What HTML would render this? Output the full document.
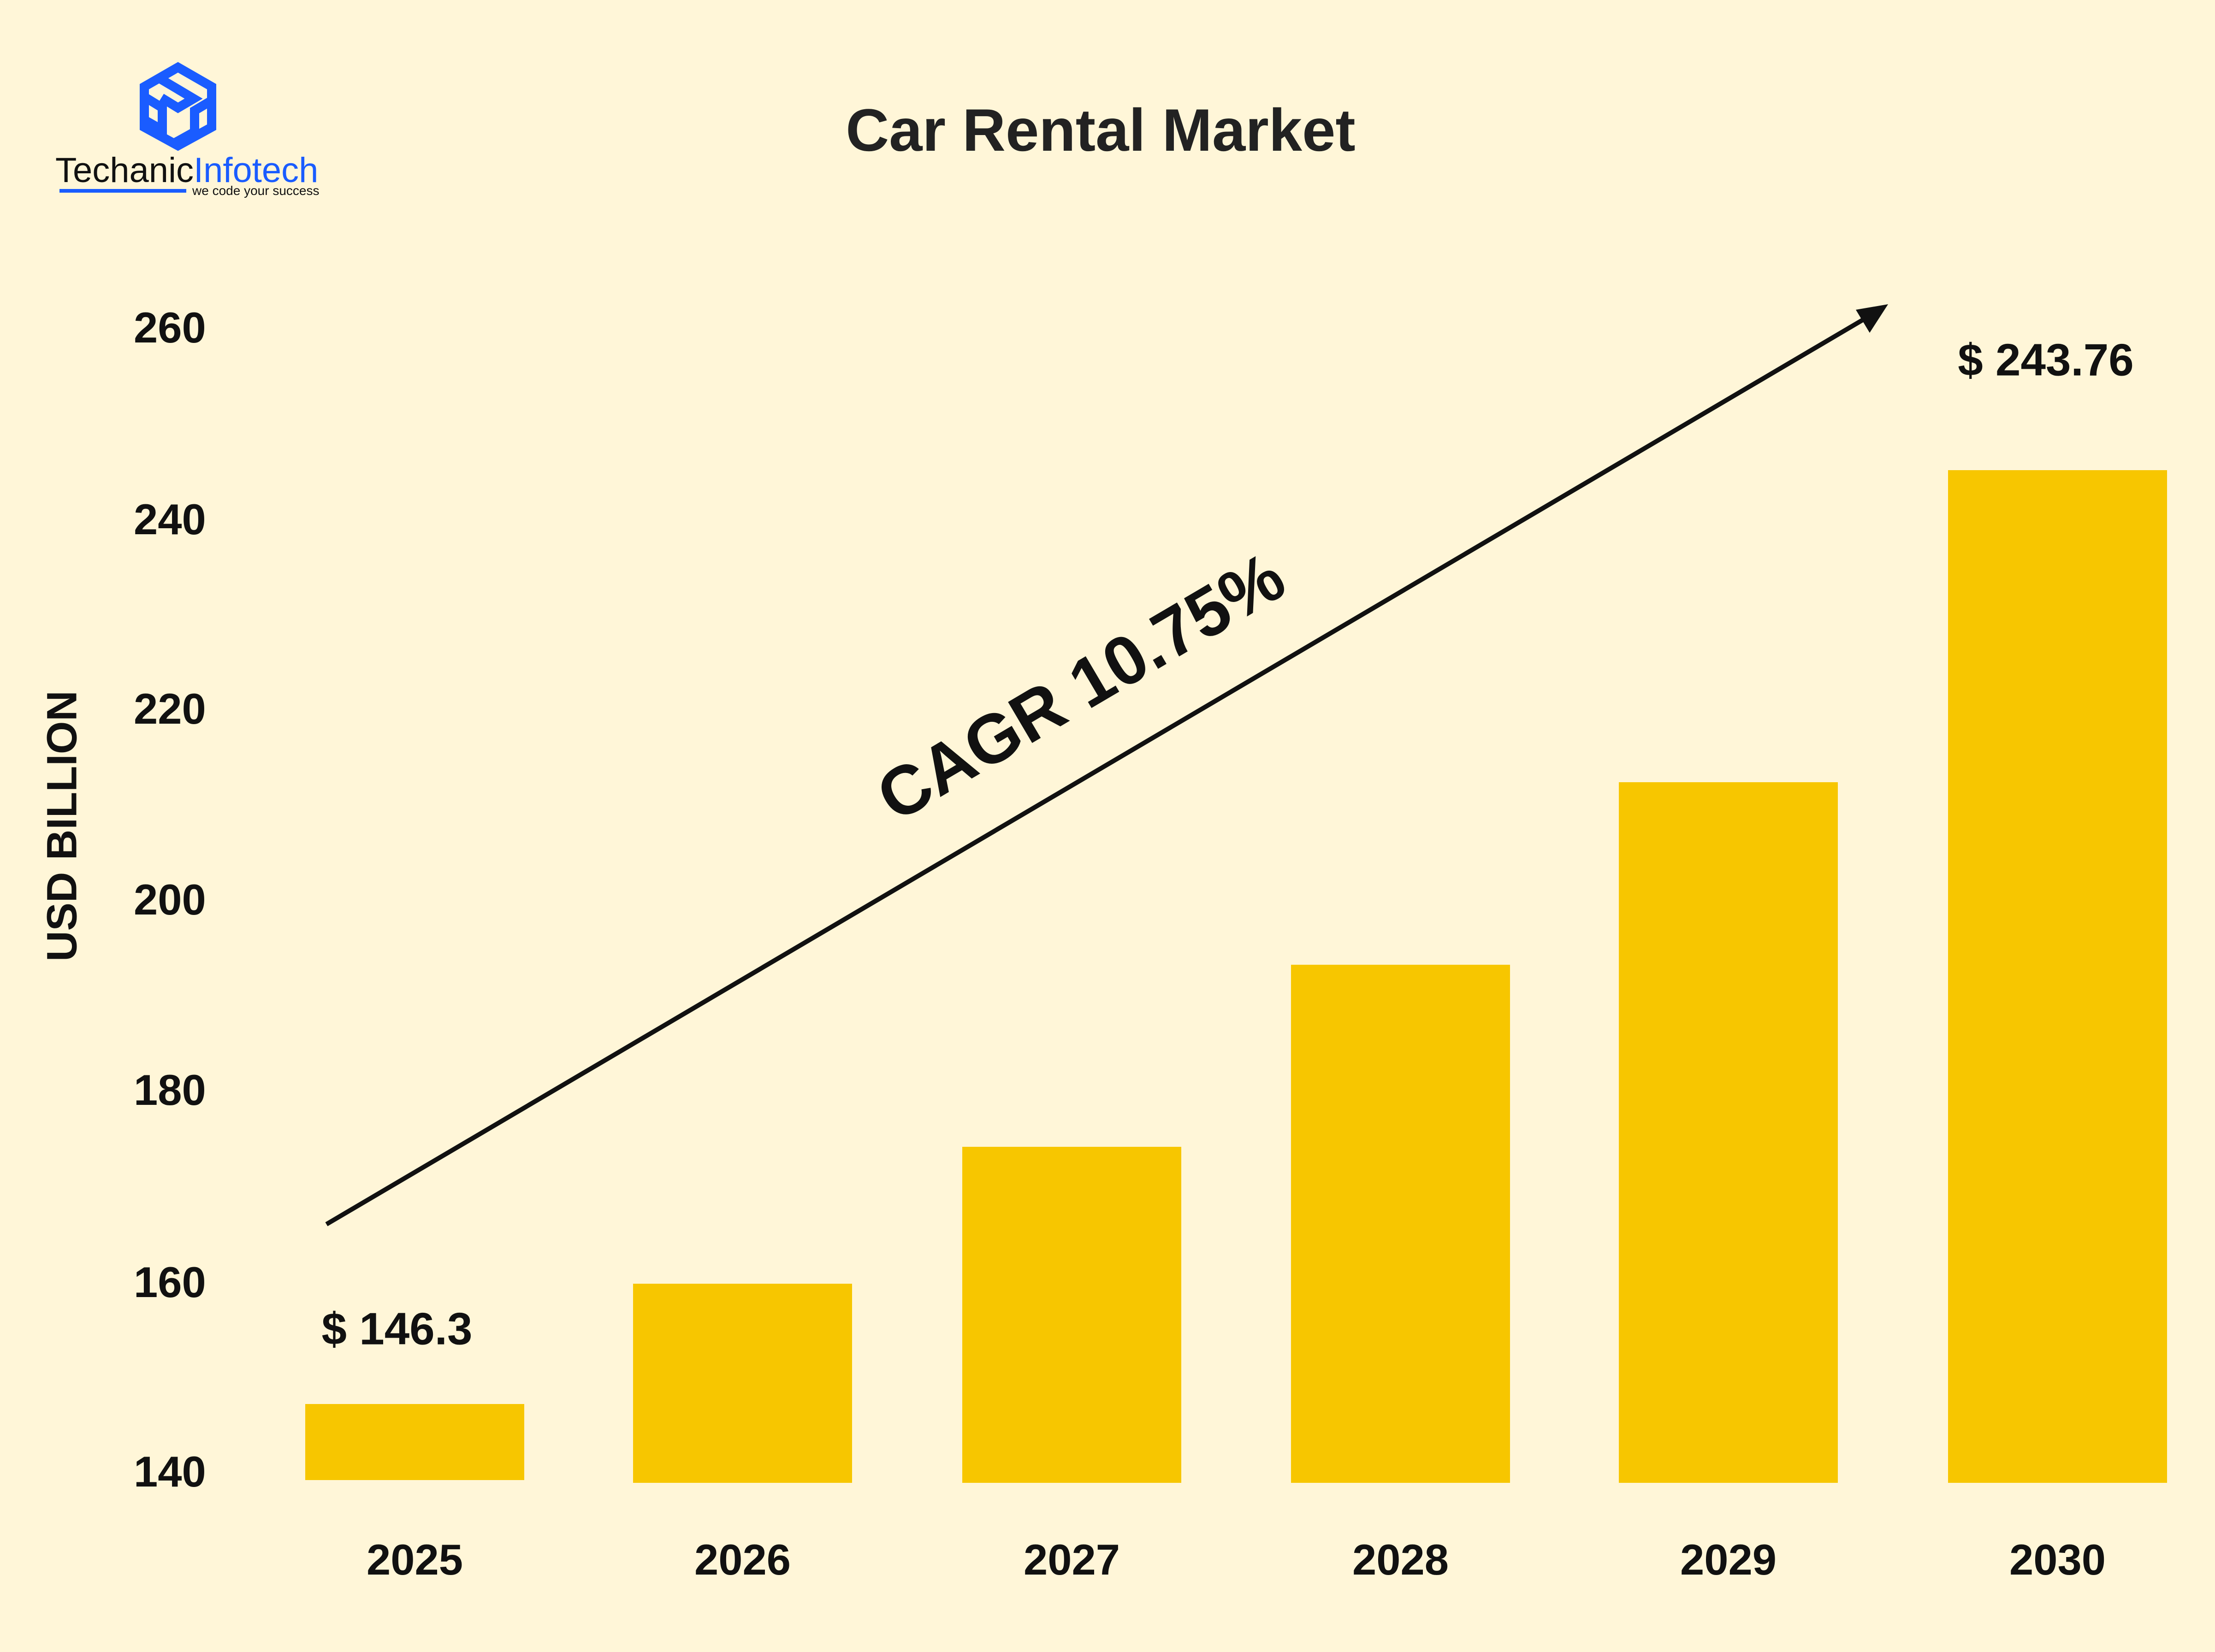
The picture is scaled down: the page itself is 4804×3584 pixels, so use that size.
<!DOCTYPE html>
<html><head><meta charset="utf-8"><style>
html,body{margin:0;padding:0}
body{width:4804px;height:3584px;background:#FFF6D8;position:relative;overflow:hidden;font-family:"Liberation Sans",sans-serif}
.t{position:absolute;font-weight:bold;color:#111;white-space:nowrap}
.bar{position:absolute;background:#F7C600;width:475px}
.yl{position:absolute;left:290px;font-size:94px;font-weight:bold;color:#111;transform:translateY(-50%)}
.xl{position:absolute;top:3330px;width:475px;text-align:center;font-size:94px;font-weight:bold;color:#111}
</style></head><body>
<svg style="position:absolute;left:0;top:0" width="4804" height="3584">
<g fill="none" stroke="#1A5CFF" stroke-width="20" stroke-linejoin="miter">
<polygon points="386,146 459,188 459,276 386,316 313,276 313,188"/>
<polyline points="346,170 420,214 386,234 350,212"/>
<polyline points="313,210 352,234 352,282 313,260"/>
<polyline points="459,218 422,240 422,286 386,306 386,322"/>
</g>
<line x1="129" y1="414" x2="404" y2="414" stroke="#1A5CFF" stroke-width="8"/>
<line x1="708" y1="2656" x2="4040" y2="694" stroke="#111" stroke-width="10"/>
<polygon points="4095,660 4025,672 4055,722" fill="#111"/>
</svg>
<div class="t" style="left:120px;top:332px;font-size:76px;font-weight:normal;line-height:1"><span style="color:#111">Techanic</span><span style="color:#1A5CFF">Infotech</span></div>
<div class="t" style="left:417px;top:400px;font-size:28px;font-weight:normal;line-height:1">we code your success</div>
<div class="t" style="left:2387px;top:282px;font-size:130px;transform:translate(-50%,-50%);color:#222">Car Rental Market</div>
<div class="t" style="left:135px;top:1792px;font-size:92px;transform:translate(-50%,-50%) rotate(-90deg)">USD BILLION</div>
<div class="t" style="left:2344px;top:1490px;font-size:150px;transform:translate(-50%,-50%) rotate(-30.5deg)">CAGR 10.75%</div>
<div class="t" style="left:861px;top:2883px;font-size:98px;transform:translate(-50%,-50%)">$ 146.3</div>
<div class="t" style="left:4437px;top:781px;font-size:98px;transform:translate(-50%,-50%)">$ 243.76</div>
<div class="yl" style="top:711px">260</div>
<div class="yl" style="top:1127px">240</div>
<div class="yl" style="top:1538px">220</div>
<div class="yl" style="top:1952px">200</div>
<div class="yl" style="top:2365px">180</div>
<div class="yl" style="top:2782px">160</div>
<div class="yl" style="top:3193px">140</div>
<div class="bar" style="left:662px;top:3046px;height:165px"></div>
<div class="bar" style="left:1373px;top:2785px;height:432px"></div>
<div class="bar" style="left:2087px;top:2488px;height:729px"></div>
<div class="bar" style="left:2800px;top:2093px;height:1124px"></div>
<div class="bar" style="left:3511px;top:1697px;height:1520px"></div>
<div class="bar" style="left:4225px;top:1020px;height:2197px"></div>
<div class="xl" style="left:662px">2025</div>
<div class="xl" style="left:1373px">2026</div>
<div class="xl" style="left:2087px">2027</div>
<div class="xl" style="left:2800px">2028</div>
<div class="xl" style="left:3511px">2029</div>
<div class="xl" style="left:4225px">2030</div>
</body></html>
